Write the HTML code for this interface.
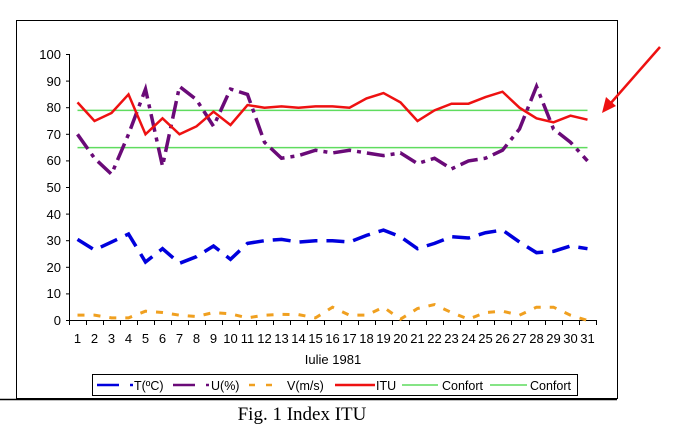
<!DOCTYPE html>
<html><head><meta charset="utf-8"><style>
body{margin:0;background:#fff;}
svg{display:block;font-family:"Liberation Sans",Arial,sans-serif;}
</style></head><body>
<svg width="673" height="437" viewBox="0 0 673 437" xmlns="http://www.w3.org/2000/svg">
<rect width="673" height="437" fill="#fff"/>
<rect x="16.5" y="20.5" width="601" height="378" fill="none" stroke="#000" stroke-width="1"/>
<line x1="0" y1="399.5" x2="617" y2="399.5" stroke="#000" stroke-width="1.5"/>
<!-- axes -->
<line x1="69.5" y1="54" x2="69.5" y2="320" stroke="#000"/>
<line x1="69" y1="320.5" x2="597" y2="320.5" stroke="#000"/>
<g stroke="#000">
<line x1="66" y1="54.5" x2="69" y2="54.5"/><line x1="66" y1="81.1" x2="69" y2="81.1"/><line x1="66" y1="107.7" x2="69" y2="107.7"/><line x1="66" y1="134.3" x2="69" y2="134.3"/><line x1="66" y1="160.9" x2="69" y2="160.9"/><line x1="66" y1="187.5" x2="69" y2="187.5"/><line x1="66" y1="214.1" x2="69" y2="214.1"/><line x1="66" y1="240.7" x2="69" y2="240.7"/><line x1="66" y1="267.3" x2="69" y2="267.3"/><line x1="66" y1="293.9" x2="69" y2="293.9"/><line x1="66" y1="320.5" x2="69" y2="320.5"/>
</g>
<g stroke="#000" id="xt">
<path d="M69.5 320v5M86.5 320v5M103.5 320v5M120.5 320v5M137.5 320v5M154.5 320v5M171.5 320v5M188.5 320v5M205.5 320v5M222.5 320v5M239.5 320v5M256.5 320v5M273.5 320v5M290.5 320v5M307.5 320v5M324.5 320v5M341.5 320v5M358.5 320v5M375.5 320v5M392.5 320v5M409.5 320v5M426.5 320v5M443.5 320v5M460.5 320v5M477.5 320v5M494.5 320v5M511.5 320v5M528.5 320v5M545.5 320v5M562.5 320v5M579.5 320v5M596.5 320v5"/>
</g>
<g font-size="13" text-anchor="end" fill="#000">
<text x="61" y="59">100</text><text x="61" y="86">90</text><text x="61" y="112">80</text><text x="61" y="139">70</text><text x="61" y="165">60</text><text x="61" y="192">50</text><text x="61" y="219">40</text><text x="61" y="245">30</text><text x="61" y="272">20</text><text x="61" y="298">10</text><text x="61" y="325">0</text>
</g>
<g font-size="13" text-anchor="middle" fill="#000">
<text x="77.5" y="343">1</text><text x="94.5" y="343">2</text><text x="111.5" y="343">3</text><text x="128.5" y="343">4</text><text x="145.5" y="343">5</text><text x="162.5" y="343">6</text><text x="179.5" y="343">7</text><text x="196.5" y="343">8</text><text x="213.5" y="343">9</text><text x="230.5" y="343">10</text><text x="247.5" y="343">11</text><text x="264.5" y="343">12</text><text x="281.5" y="343">13</text><text x="298.5" y="343">14</text><text x="315.5" y="343">15</text><text x="332.5" y="343">16</text><text x="349.5" y="343">17</text><text x="366.5" y="343">18</text><text x="383.5" y="343">19</text><text x="400.5" y="343">20</text><text x="417.5" y="343">21</text><text x="434.5" y="343">22</text><text x="451.5" y="343">23</text><text x="468.5" y="343">24</text><text x="485.5" y="343">25</text><text x="502.5" y="343">26</text><text x="519.5" y="343">27</text><text x="536.5" y="343">28</text><text x="553.5" y="343">29</text><text x="570.5" y="343">30</text><text x="587.5" y="343">31</text>
<text x="333" y="364">Iulie 1981</text>
</g>
<g transform="translate(60.5,320.5) scale(17,-2.66)" fill="none">
<line x1="1" y1="79" x2="31" y2="79" stroke="#5fdc5f" stroke-width="1.5" vector-effect="non-scaling-stroke"/>
<line x1="1" y1="65" x2="31" y2="65" stroke="#5fdc5f" stroke-width="1.5" vector-effect="non-scaling-stroke"/>
<polyline vector-effect="non-scaling-stroke" stroke="#f0a020" stroke-width="3" stroke-dasharray="7 9" points="1,2 2,2 3,1 4,1 5,3.5 6,3 7,2 8,1.5 9,3 10,2.5 11,1 12,2 13,2.3 14,2.2 15,1 16,5 17,2 18,2 19,5 20,0.5 21,4.5 22,6 23,3 24,0.5 25,3 26,3.5 27,2 28,5 29,5 30,2 31,0"/>
<polyline vector-effect="non-scaling-stroke" stroke="#0000dd" stroke-width="3.5" stroke-dasharray="18 9" points="1,30.5 2,26.5 3,29.5 4,32.5 5,22 6,27 7,21.5 8,24 9,28 10,23 11,29 12,30 13,30.5 14,29.5 15,30 16,30 17,29.5 18,32 19,34 20,31.5 21,27 22,29 23,31.5 24,31 25,33 26,34 27,29.5 28,25.5 29,26 30,28 31,27"/>
<polyline vector-effect="non-scaling-stroke" stroke="#6a0a78" stroke-width="3.5" stroke-dasharray="18 6 4 6" points="1,70 2,61 3,55 4,70 5,87 6,58 7,88 8,83 9,73 10,87 11,85 12,67 13,61 14,62 15,64 16,63 17,64 18,63 19,62 20,63 21,59 22,61 23,57 24,60 25,61 26,64 27,72 28,88 29,72 30,67 31,60"/>
<polyline vector-effect="non-scaling-stroke" stroke="#ee1111" stroke-width="2.5" points="1,82 2,75 3,78 4,85 5,70 6,76 7,70 8,73 9,78.5 10,73.5 11,81 12,80 13,80.5 14,80 15,80.5 16,80.5 17,80 18,83.5 19,85.5 20,82 21,75 22,79 23,81.5 24,81.5 25,84 26,86 27,80 28,76 29,74.5 30,77 31,75.5"/>
</g>
<!-- arrow -->
<line x1="660" y1="47" x2="610" y2="104" stroke="#ee1111" stroke-width="2.5"/>
<polygon points="602,113 606,97 616,106" fill="#ee1111"/>
<!-- legend -->
<rect x="92.5" y="374.5" width="485" height="21" fill="#fff" stroke="#000"/>
<g stroke-width="2.5">
<line x1="97" y1="385" x2="119" y2="385" stroke="#0000dd"/><line x1="130" y1="385" x2="133" y2="385" stroke="#0000dd"/>
<line x1="173" y1="385" x2="195" y2="385" stroke="#6a0a78"/><line x1="206" y1="385" x2="209" y2="385" stroke="#6a0a78"/>
<line x1="249" y1="385" x2="255" y2="385" stroke="#f0a020"/><line x1="266" y1="385" x2="272" y2="385" stroke="#f0a020"/>
<line x1="335" y1="385" x2="375" y2="385" stroke="#ee1111"/>
<line x1="402" y1="385" x2="438" y2="385" stroke="#5fdc5f" stroke-width="1.5"/>
<line x1="490" y1="385" x2="527" y2="385" stroke="#5fdc5f" stroke-width="1.5"/>
</g>
<g font-size="12.5" fill="#000">
<text x="134" y="390">T(ºC)</text><text x="211" y="390">U(%)</text><text x="287" y="390">V(m/s)</text><text x="376" y="390">ITU</text><text x="442" y="390">Confort</text><text x="530" y="390">Confort</text>
</g>
<text x="302" y="420" font-family="'Liberation Serif',serif" font-size="19" text-anchor="middle" fill="#000">Fig. 1 Index ITU</text>
</svg>
</body></html>
